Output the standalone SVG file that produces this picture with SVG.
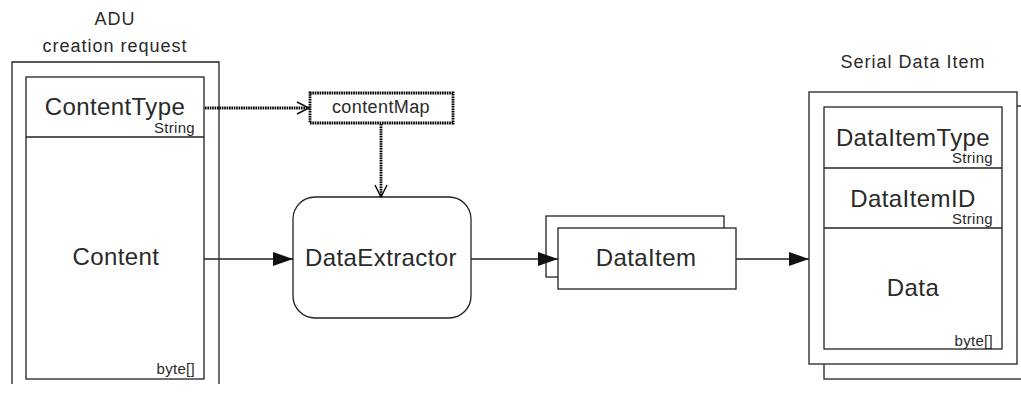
<svg xmlns="http://www.w3.org/2000/svg" width="1021" height="393" viewBox="0 0 1021 393">
  <style>
    .box { fill: #fff; stroke: #222; stroke-width: 1.3; }
    .line { fill: none; stroke: #222; stroke-width: 1.3; }
    .dot { fill: none; stroke: #000; stroke-width: 2.8; stroke-dasharray: 1.6 0.8; }
    .t { font-family: "Liberation Sans", Arial, sans-serif; fill: #2a2a2a; }
    .big { font-size: 24px; text-anchor: middle; letter-spacing: 0.4px; }
    .cap { font-size: 18px; text-anchor: middle; letter-spacing: 1px; }
    .typ { font-size: 15px; text-anchor: end; letter-spacing: 0.3px; }
  </style>
  <defs>
    <marker id="solid" markerWidth="20" markerHeight="14" refX="20" refY="7" orient="auto" markerUnits="userSpaceOnUse">
      <path d="M0,0 L20,7 L0,14 Z" fill="#111"/>
    </marker>
    <marker id="open" markerWidth="14" markerHeight="14" refX="13" refY="7" orient="auto" markerUnits="userSpaceOnUse">
      <path d="M1,1 L13,7 L1,13" fill="none" stroke="#111" stroke-width="1.5"/>
    </marker>
  </defs>

  <!-- ADU creation request -->
  <g id="adu">
    <text class="t cap" x="115" y="25">ADU</text>
    <text class="t cap" x="115" y="52">creation request</text>
    <path class="line" d="M12,384 L12,62 L219,62 L219,384"/>
    <rect class="box" x="26" y="77" width="178" height="302"/>
    <line class="line" x1="26" y1="137" x2="204" y2="137"/>
    <text class="t big" x="115" y="115">ContentType</text>
    <text class="t typ" x="195" y="133">String</text>
    <text class="t big" x="116" y="265">Content</text>
    <text class="t typ" x="195" y="374">byte[]</text>
  </g>

  <!-- contentMap -->
  <g id="contentMap">
    <rect class="dot" x="310" y="93" width="143" height="30" style="fill:#fff"/>
    <text class="t" x="381" y="113" font-size="18" letter-spacing="0.4" text-anchor="middle">contentMap</text>
  </g>

  <!-- DataExtractor -->
  <g id="dataExtractor">
    <rect class="box" x="293" y="197" width="178" height="121" rx="22" ry="22"/>
    <text class="t big" x="381" y="266">DataExtractor</text>
  </g>

  <!-- DataItem (multiple) -->
  <g id="dataItem">
    <rect class="box" x="546" y="216" width="178" height="61"/>
    <rect class="box" x="558" y="228" width="178" height="61"/>
    <text class="t big" x="646" y="266">DataItem</text>
  </g>

  <!-- Serial Data Item -->
  <g id="serialDataItem">
    <text class="t cap" x="913" y="68">Serial Data Item</text>
    <rect class="box" x="824" y="106" width="220" height="273"/>
    <rect class="box" x="809" y="92" width="208" height="272"/>
    <rect class="box" x="824" y="107" width="178" height="242"/>
    <line class="line" x1="824" y1="168" x2="1002" y2="168"/>
    <line class="line" x1="824" y1="228" x2="1002" y2="228"/>
    <text class="t big" x="913" y="146">DataItemType</text>
    <text class="t typ" x="993" y="163">String</text>
    <text class="t big" x="913" y="207">DataItemID</text>
    <text class="t typ" x="993" y="224">String</text>
    <text class="t big" x="913" y="296">Data</text>
    <text class="t typ" x="993" y="346">byte[]</text>
  </g>

  <!-- connectors -->
  <g id="connectors">
    <line class="dot" x1="205" y1="108" x2="309" y2="108" marker-end="url(#open)"/>
    <line class="dot" x1="381" y1="124" x2="381" y2="197" marker-end="url(#open)"/>
    <line class="line" x1="204" y1="259" x2="293" y2="259" marker-end="url(#solid)"/>
    <line class="line" x1="471" y1="259" x2="558" y2="259" marker-end="url(#solid)"/>
    <line class="line" x1="736" y1="259" x2="809" y2="259" marker-end="url(#solid)"/>
  </g>
</svg>
